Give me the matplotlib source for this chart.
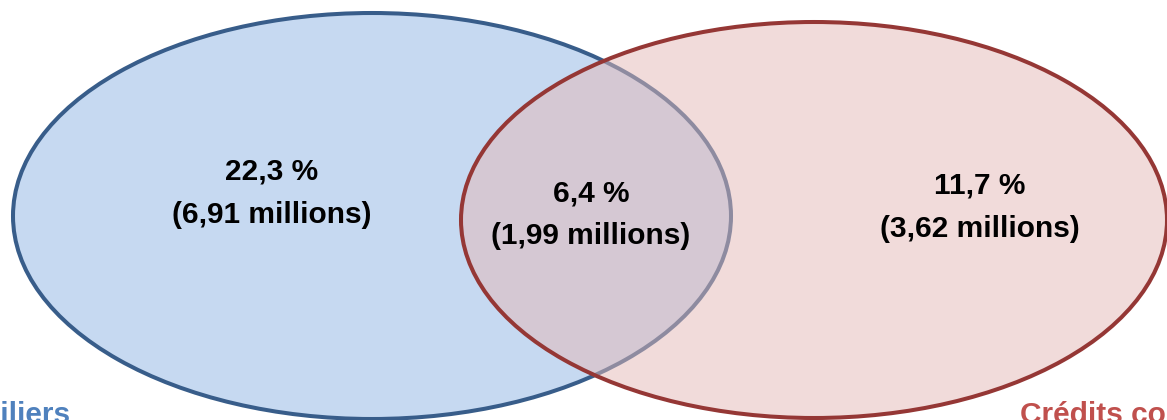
import matplotlib
matplotlib.use("Agg")
import matplotlib.pyplot as plt
from matplotlib.patches import Ellipse

# ------------------------------
# Données
# ------------------------------
groupes = ["Crédits immobiliers", "Crédits consommation"]
parts = ["22,3 %", "6,4 %", "11,7 %"]          # immo seul, les deux, conso seul
effectifs = ["(6,91 millions)", "(1,99 millions)", "(3,62 millions)"]

# ------------------------------
# Figure (coordonnées en pixels)
# ------------------------------
W, H = 1167, 420
fig = plt.figure(figsize=(W / 100, H / 100), dpi=100)
ax = fig.add_axes([0, 0, 1, 1])
ax.set_xlim(0, W)
ax.set_ylim(H, 0)
ax.axis("off")

police = ["Liberation Sans", "DejaVu Sans"]

# ellipse bleue (immobilier)
ax.add_patch(Ellipse((372, 216), 718, 406, facecolor="#C6D9F1",
                     edgecolor="#385D8A", linewidth=2.9, zorder=1))
# ellipse rouge (consommation) : remplissage semi-transparent
ax.add_patch(Ellipse((814, 220), 706, 396, facecolor="#E5B9B7", alpha=0.5,
                     edgecolor="none", zorder=2))
ax.add_patch(Ellipse((814, 220), 706, 396, facecolor="none",
                     edgecolor="#953735", linewidth=2.9, zorder=3))

# étiquettes des zones
pos = [(272, 172), (591, 193), (980, 186)]
for (x, y), p, e in zip(pos, parts, effectifs):
    ax.text(x, y, p, ha="center", va="center", fontsize=21.5, fontweight="bold",
            family=police, zorder=5)
    ax.text(x, y + 43, e, ha="center", va="center", fontsize=21.5, fontweight="bold",
            family=police, zorder=5)

# noms des groupes (coupés par le bord, comme sur l'original)
ax.text(70, 423, groupes[0], ha="right", va="baseline", fontsize=21.5,
        fontweight="bold", color="#4F81BD", family=police, zorder=5)
ax.text(1020, 423, groupes[1], ha="left", va="baseline", fontsize=21.5,
        fontweight="bold", color="#C0504D", family=police, zorder=5)

fig.savefig("out.png", dpi=100)
